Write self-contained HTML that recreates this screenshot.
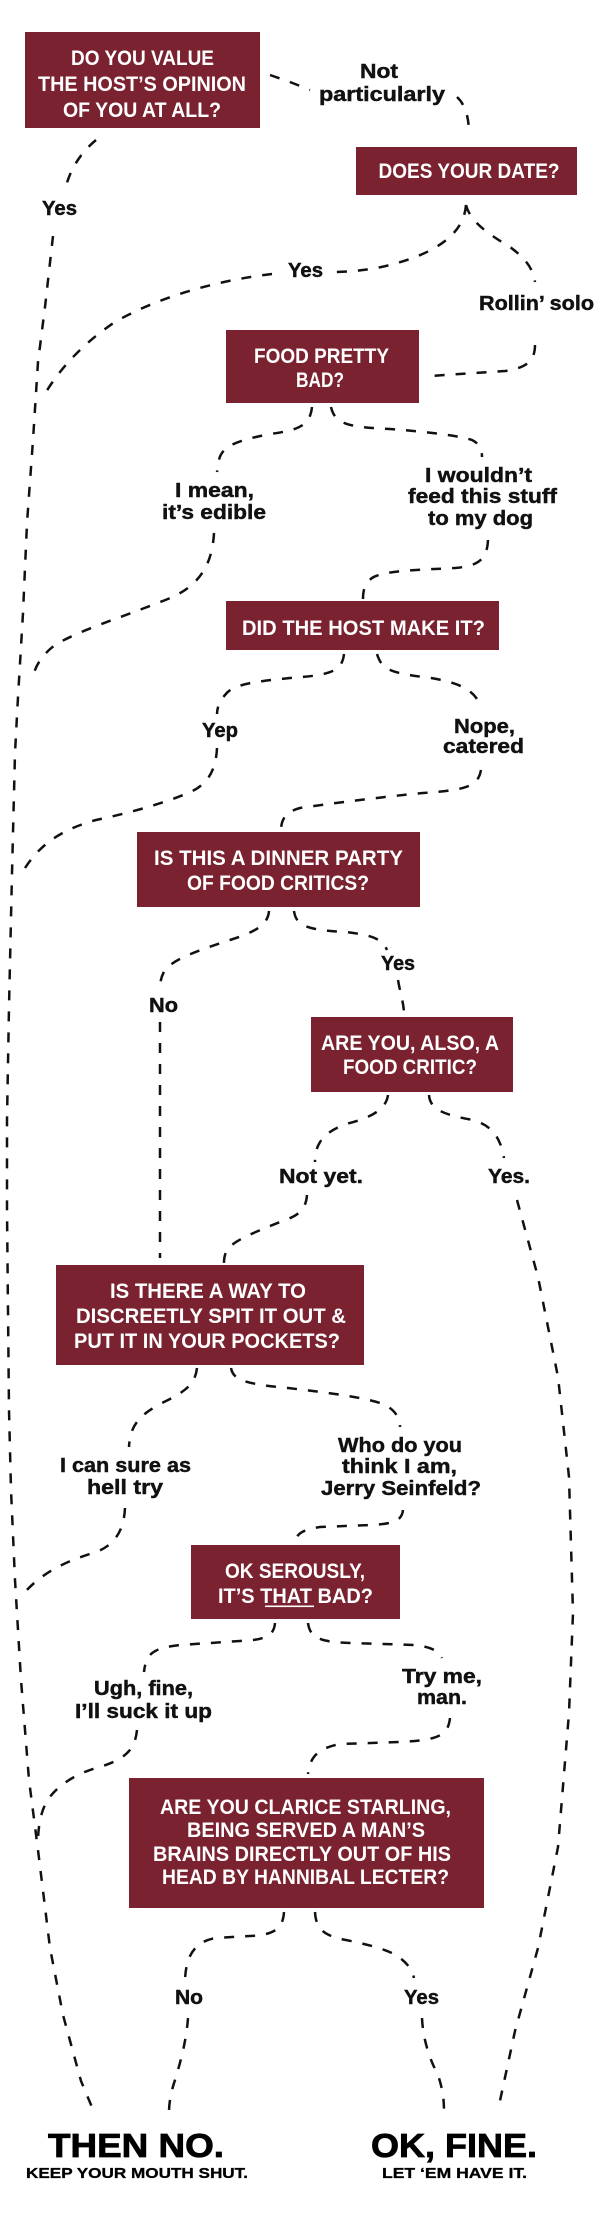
<!DOCTYPE html>
<html>
<head>
<meta charset="utf-8">
<style>
  html, body { margin: 0; padding: 0; background: #ffffff; }
  svg { display: block; }
  .box { fill: #7a2230; }
  .bt { font-family: "Liberation Sans Narrow", "Liberation Sans", sans-serif; font-weight: bold; font-size: 21px; fill: #ffffff; }
  .lb { font-family: "Liberation Sans", sans-serif; font-weight: bold; font-size: 20px; fill: #111111; stroke: #111111; stroke-width: 0.45; }
  .big { font-family: "Liberation Sans", sans-serif; font-weight: bold; font-size: 33px; fill: #000000; stroke: #000000; stroke-width: 0.8; }
  .sub { font-family: "Liberation Sans", sans-serif; font-weight: bold; font-size: 14.5px; fill: #000000; stroke: #000000; stroke-width: 0.3; }
  .c { fill: none; stroke: #111111; stroke-width: 2.5; stroke-dasharray: 10 11; }
</style>
</head>
<body>
<svg width="600" height="2228" viewBox="0 0 600 2228" xmlns="http://www.w3.org/2000/svg">
  <rect x="0" y="0" width="600" height="2228" fill="#ffffff"/>

  <!-- ============ CONNECTORS ============ -->
  <path class="c" d="M270,75 C 285,80 298,85 310,90"/>
  <path class="c" d="M457,97 Q 469,108 469,134"/>
  <path class="c" d="M96,140 Q 72,160 65,190"/>
  <path class="c" d="M53,236 L45,307 L38,362 L33,440 L27,523 L23,613 L18,697 L15,753 L12,873 L9,1007 L7,1120 L7,1210 L8,1310 L9,1410 L11,1490 L15,1580 L21,1680 L29,1780 L38,1850 L50,1948 L63,2015 L81,2081 L94,2112"/>

  <path class="c" d="M466,205 C 464,232 440,252 390,265 C 370,270 350,272 332,272"/>
  <path class="c" d="M272,274 C 220,280 160,296 115,322 C 85,342 62,366 46,392"/>
  <path class="c" d="M466,205 C 470,222 490,235 510,247 C 525,258 533,268 535,282"/>
  <path class="c" d="M535,345 C 535,362 525,368 505,371 L 430,376"/>

  <path class="c" d="M312,407 C 310,425 300,430 270,434 C 240,440 222,445 219,460 L 217,472"/>
  <path class="c" d="M214,533 C 212,570 195,590 160,602 C 120,618 80,630 55,645 C 42,655 36,665 33,676"/>
  <path class="c" d="M331,407 C 335,425 350,427 390,429 C 430,432 460,436 472,440 C 480,444 482,450 482,457"/>
  <path class="c" d="M488,540 C 487,560 478,566 455,568 C 420,570 385,570 372,578 C 364,584 363,592 363,599"/>

  <path class="c" d="M344,654 C 342,672 330,675 290,678 C 250,682 232,685 225,695 C 218,703 217,710 217,714"/>
  <path class="c" d="M217,748 C 216,770 208,785 188,793 C 160,805 120,815 96,820 C 60,830 40,845 25,868"/>
  <path class="c" d="M377,654 C 382,670 390,673 431,678 C 460,683 475,690 481,707"/>
  <path class="c" d="M481,770 C 478,785 470,790 423,793 C 380,797 320,805 300,808 C 285,812 281,820 281,831"/>

  <path class="c" d="M269,911 C 268,925 255,932 230,940 C 200,950 175,958 165,970 C 160,978 160,985 160,992"/>
  <path class="c" d="M160,1022 L 160,1258"/>
  <path class="c" d="M294,911 C 296,925 305,930 346,932 C 370,935 382,938 387,950"/>
  <path class="c" d="M398,980 C 400,992 403,1000 404,1012"/>

  <path class="c" d="M388,1095 C 386,1110 370,1118 346,1124 C 325,1132 315,1142 315,1162"/>
  <path class="c" d="M307,1195 C 306,1208 300,1215 285,1220 C 260,1230 240,1238 232,1245 C 226,1250 224,1255 224,1263"/>
  <path class="c" d="M429,1095 C 430,1110 445,1115 473,1120 C 490,1125 500,1135 504,1158"/>
  <path class="c" d="M517,1200 L538,1277 L558,1377 L569,1477 L573,1613 L569,1713 L558,1847 L538,1948 L515,2031 L498,2110"/>

  <path class="c" d="M197,1368 C 195,1385 185,1392 160,1404 C 140,1415 130,1425 129,1447"/>
  <path class="c" d="M125,1508 C 124,1530 115,1545 96,1552 C 70,1560 45,1570 25,1592"/>
  <path class="c" d="M231,1368 C 233,1380 245,1384 288,1388 C 330,1393 370,1398 385,1405 C 395,1410 400,1418 400,1427"/>
  <path class="c" d="M403,1510 C 402,1520 395,1524 370,1525 L 320,1527 C 300,1530 296,1535 296,1542"/>

  <path class="c" d="M275,1623 C 274,1636 265,1640 240,1641 L 180,1645 C 155,1648 146,1652 144,1672"/>
  <path class="c" d="M137,1730 C 135,1750 125,1760 96,1768 C 70,1776 52,1790 45,1805 C 40,1815 38,1830 38,1842"/>
  <path class="c" d="M308,1623 C 310,1638 320,1642 350,1643 L 415,1645 C 430,1647 438,1650 442,1658"/>
  <path class="c" d="M450,1718 C 448,1735 440,1740 400,1742 L 340,1744 C 320,1748 310,1755 308,1774"/>

  <path class="c" d="M284,1912 C 283,1928 275,1935 250,1936 L 215,1938 C 195,1942 186,1955 185,1980"/>
  <path class="c" d="M188,2018 C 186,2045 178,2070 175,2080 C 170,2095 169,2105 169,2113"/>
  <path class="c" d="M315,1912 C 316,1930 325,1936 346,1940 C 370,1945 390,1950 400,1958 C 408,1964 412,1970 414,1978"/>
  <path class="c" d="M422,2018 C 423,2040 430,2060 438,2075 C 443,2090 444,2100 444,2112"/>

  <!-- ============ BOXES ============ -->
  <rect class="box" x="25" y="32" width="235" height="96"/>
  <text class="bt" x="142.5" y="65" text-anchor="middle" textLength="143" lengthAdjust="spacingAndGlyphs">DO YOU VALUE</text>
  <text class="bt" x="142" y="91" text-anchor="middle" textLength="208" lengthAdjust="spacingAndGlyphs">THE HOST’S OPINION</text>
  <text class="bt" x="142" y="117" text-anchor="middle" textLength="158" lengthAdjust="spacingAndGlyphs">OF YOU AT ALL?</text>

  <rect class="box" x="356" y="147" width="221" height="48"/>
  <text class="bt" x="469" y="178" text-anchor="middle" textLength="181" lengthAdjust="spacingAndGlyphs">DOES YOUR DATE?</text>

  <rect class="box" x="226" y="330" width="193" height="73"/>
  <text class="bt" x="321.5" y="363" text-anchor="middle" textLength="135" lengthAdjust="spacingAndGlyphs">FOOD PRETTY</text>
  <text class="bt" x="320" y="387" text-anchor="middle" textLength="48" lengthAdjust="spacingAndGlyphs">BAD?</text>

  <rect class="box" x="226" y="601" width="273" height="49"/>
  <text class="bt" x="363.5" y="635" text-anchor="middle" textLength="243" lengthAdjust="spacingAndGlyphs">DID THE HOST MAKE IT?</text>

  <rect class="box" x="137" y="832" width="283" height="75"/>
  <text class="bt" x="278.5" y="865" text-anchor="middle" textLength="249" lengthAdjust="spacingAndGlyphs">IS THIS A DINNER PARTY</text>
  <text class="bt" x="278" y="890" text-anchor="middle" textLength="182" lengthAdjust="spacingAndGlyphs">OF FOOD CRITICS?</text>

  <rect class="box" x="311" y="1017" width="202" height="75"/>
  <text class="bt" x="410" y="1050" text-anchor="middle" textLength="178" lengthAdjust="spacingAndGlyphs">ARE YOU, ALSO, A</text>
  <text class="bt" x="410" y="1074" text-anchor="middle" textLength="134" lengthAdjust="spacingAndGlyphs">FOOD CRITIC?</text>

  <rect class="box" x="56" y="1265" width="308" height="100"/>
  <text class="bt" x="208" y="1298" text-anchor="middle" textLength="196" lengthAdjust="spacingAndGlyphs">IS THERE A WAY TO</text>
  <text class="bt" x="211" y="1323" text-anchor="middle" textLength="270" lengthAdjust="spacingAndGlyphs">DISCREETLY SPIT IT OUT &amp;</text>
  <text class="bt" x="207" y="1348" text-anchor="middle" textLength="266" lengthAdjust="spacingAndGlyphs">PUT IT IN YOUR POCKETS?</text>

  <rect class="box" x="191" y="1545" width="209" height="74"/>
  <text class="bt" x="295" y="1578" text-anchor="middle" textLength="140" lengthAdjust="spacingAndGlyphs">OK SEROUSLY,</text>
  <text class="bt" x="295.5" y="1603" text-anchor="middle" textLength="155" lengthAdjust="spacingAndGlyphs">IT’S THAT BAD?</text>
  <rect x="265" y="1605.5" width="49" height="1.6" fill="#ffffff"/>

  <rect class="box" x="129" y="1778" width="355" height="130"/>
  <text class="bt" x="305.5" y="1814" text-anchor="middle" textLength="291" lengthAdjust="spacingAndGlyphs">ARE YOU CLARICE STARLING,</text>
  <text class="bt" x="306" y="1837" text-anchor="middle" textLength="238" lengthAdjust="spacingAndGlyphs">BEING SERVED A MAN’S</text>
  <text class="bt" x="302" y="1861" text-anchor="middle" textLength="298" lengthAdjust="spacingAndGlyphs">BRAINS DIRECTLY OUT OF HIS</text>
  <text class="bt" x="305.5" y="1884" text-anchor="middle" textLength="287" lengthAdjust="spacingAndGlyphs">HEAD BY HANNIBAL LECTER?</text>

  <!-- ============ LABELS ============ -->
  <text class="lb" x="379" y="78" text-anchor="middle" textLength="38" lengthAdjust="spacingAndGlyphs">Not</text>
  <text class="lb" x="382" y="101" text-anchor="middle" textLength="126" lengthAdjust="spacingAndGlyphs">particularly</text>

  <text class="lb" x="59.5" y="215" text-anchor="middle" textLength="35" lengthAdjust="spacingAndGlyphs">Yes</text>
  <text class="lb" x="305.5" y="277" text-anchor="middle" textLength="35" lengthAdjust="spacingAndGlyphs">Yes</text>
  <text class="lb" x="536.5" y="310" text-anchor="middle" textLength="115" lengthAdjust="spacingAndGlyphs">Rollin’ solo</text>

  <text class="lb" x="214.5" y="497" text-anchor="middle" textLength="79" lengthAdjust="spacingAndGlyphs">I mean,</text>
  <text class="lb" x="214" y="519" text-anchor="middle" textLength="104" lengthAdjust="spacingAndGlyphs">it’s edible</text>

  <text class="lb" x="478.5" y="482" text-anchor="middle" textLength="107" lengthAdjust="spacingAndGlyphs">I wouldn’t</text>
  <text class="lb" x="482.5" y="503" text-anchor="middle" textLength="149" lengthAdjust="spacingAndGlyphs">feed this stuff</text>
  <text class="lb" x="480.5" y="525" text-anchor="middle" textLength="105" lengthAdjust="spacingAndGlyphs">to my dog</text>

  <text class="lb" x="220" y="737" text-anchor="middle" textLength="36" lengthAdjust="spacingAndGlyphs">Yep</text>
  <text class="lb" x="484.5" y="733" text-anchor="middle" textLength="61" lengthAdjust="spacingAndGlyphs">Nope,</text>
  <text class="lb" x="483.5" y="753" text-anchor="middle" textLength="81" lengthAdjust="spacingAndGlyphs">catered</text>

  <text class="lb" x="163.5" y="1012" text-anchor="middle" textLength="29" lengthAdjust="spacingAndGlyphs">No</text>
  <text class="lb" x="398" y="970" text-anchor="middle" textLength="34" lengthAdjust="spacingAndGlyphs">Yes</text>

  <text class="lb" x="321" y="1183" text-anchor="middle" textLength="84" lengthAdjust="spacingAndGlyphs">Not yet.</text>
  <text class="lb" x="509" y="1183" text-anchor="middle" textLength="42" lengthAdjust="spacingAndGlyphs">Yes.</text>

  <text class="lb" x="125.5" y="1472" text-anchor="middle" textLength="131" lengthAdjust="spacingAndGlyphs">I can sure as</text>
  <text class="lb" x="125" y="1494" text-anchor="middle" textLength="76" lengthAdjust="spacingAndGlyphs">hell try</text>

  <text class="lb" x="400" y="1452" text-anchor="middle" textLength="124" lengthAdjust="spacingAndGlyphs">Who do you</text>
  <text class="lb" x="399.5" y="1473" text-anchor="middle" textLength="115" lengthAdjust="spacingAndGlyphs">think I am,</text>
  <text class="lb" x="401" y="1495" text-anchor="middle" textLength="160" lengthAdjust="spacingAndGlyphs">Jerry Seinfeld?</text>

  <text class="lb" x="143.5" y="1695" text-anchor="middle" textLength="99" lengthAdjust="spacingAndGlyphs">Ugh, fine,</text>
  <text class="lb" x="143.5" y="1718" text-anchor="middle" textLength="137" lengthAdjust="spacingAndGlyphs">I’ll suck it up</text>

  <text class="lb" x="442" y="1683" text-anchor="middle" textLength="80" lengthAdjust="spacingAndGlyphs">Try me,</text>
  <text class="lb" x="442" y="1704" text-anchor="middle" textLength="50" lengthAdjust="spacingAndGlyphs">man.</text>

  <text class="lb" x="189" y="2004" text-anchor="middle" textLength="28" lengthAdjust="spacingAndGlyphs">No</text>
  <text class="lb" x="421.5" y="2004" text-anchor="middle" textLength="35" lengthAdjust="spacingAndGlyphs">Yes</text>

  <!-- ============ OUTCOMES ============ -->
  <text class="big" x="136" y="2157" text-anchor="middle" textLength="176" lengthAdjust="spacingAndGlyphs">THEN NO.</text>
  <text class="sub" x="137" y="2178" text-anchor="middle" textLength="222" lengthAdjust="spacingAndGlyphs">KEEP YOUR MOUTH SHUT.</text>
  <text class="big" x="454" y="2157" text-anchor="middle" textLength="166" lengthAdjust="spacingAndGlyphs">OK, FINE.</text>
  <text class="sub" x="454.5" y="2178" text-anchor="middle" textLength="145" lengthAdjust="spacingAndGlyphs">LET ‘EM HAVE IT.</text>
</svg>
</body>
</html>
